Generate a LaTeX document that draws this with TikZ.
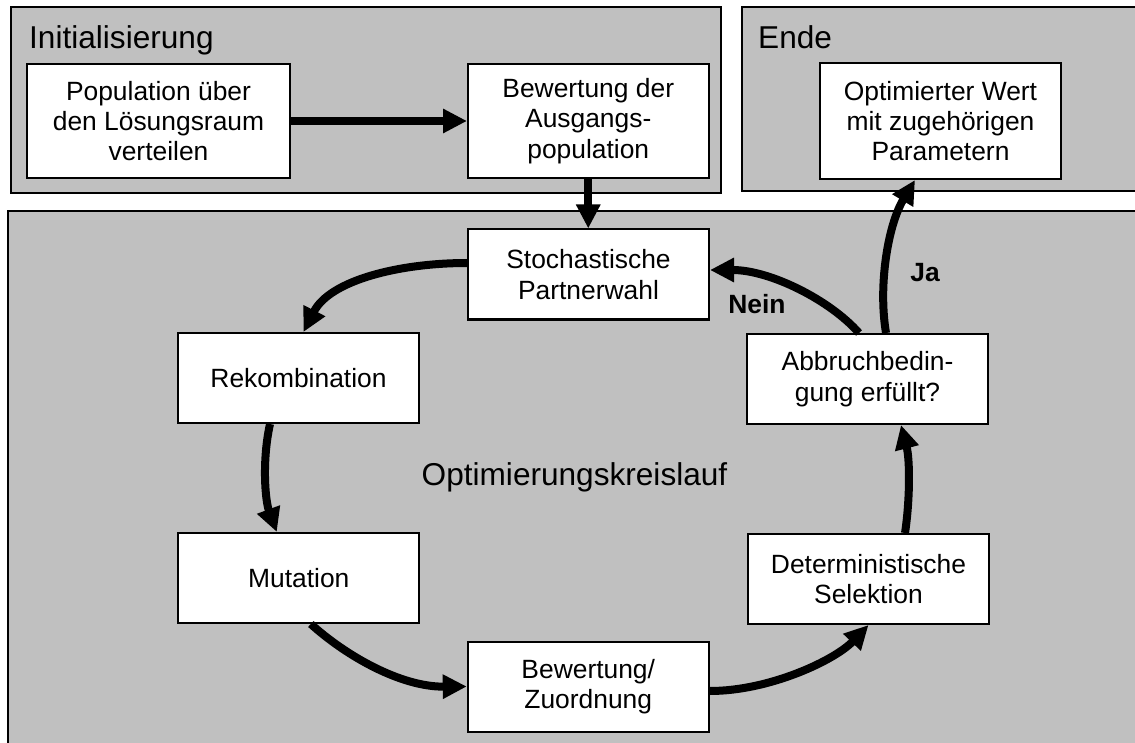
\documentclass[tikz,border=0pt]{standalone}
\usepackage{fontspec}
\setmainfont{Liberation Sans}
\usetikzlibrary{arrows.meta,calc}

\definecolor{panelgray}{RGB}{192,192,192}
\newcommand{\flowboxfont}{\fontsize{26.4}{30.4}\selectfont}
\newcommand{\phasetitlefont}{\fontsize{31.6}{36}\selectfont}

\tikzset{
  panel/.style={fill=panelgray, draw=black, line width=2pt},
  phasetitle/.style={anchor=base west, inner sep=0pt, font=\phasetitlefont},
  looptitle/.style={anchor=base, inner sep=0pt, font=\phasetitlefont},
  stepbox/.style={draw=black, fill=white, line width=2pt, align=center,
    inner sep=0pt, font=\flowboxfont, minimum width=241pt, minimum height=90pt},
  answer/.style={anchor=base, inner sep=0pt, font=\flowboxfont\bfseries},
  flow/.style={line width=8pt, -{Triangle[width=23pt,length=24pt]}}
}

\begin{document}
\begin{tikzpicture}[x=1pt,y=-1pt]
\useasboundingbox (0,0) rectangle (1135,743);
\clip (0,0) rectangle (1135,743);

% phase panels
\draw[panel] (10.5,7.5) rectangle (721,193);
\draw[panel] (742,7.5) rectangle (1145,191.5);
\draw[panel] (8,211) rectangle (1145,755);

\node[phasetitle] (tinit) at (29,49) {Initialisierung};
\node[phasetitle] (tend) at (758,49) {Ende};
\node[looptitle] (tloop) at (574.5,485) {Optimierungskreislauf};

% initialisation
\node[stepbox, minimum width=263pt, minimum height=114pt] (init1) at (158.5,121)
  {Population über\\den Lösungsraum\\verteilen};
\node[stepbox, minimum width=240.5pt, minimum height=114pt] (init2) at (588.25,121)
  {Bewertung der\\Ausgangs-\\population};

% result
\node[stepbox, minimum height=116pt] (result) at (940.5,121)
  {Optimierter Wert\\mit zugehörigen\\Parametern};

% optimisation loop
\node[stepbox] (stoch) at (588.5,274.5) {Stochastische\\Partnerwahl};
\node[stepbox] (rek) at (298.5,378) {Rekombination};
\node[stepbox] (mut) at (298.8,578) {Mutation};
\node[stepbox] (bew) at (588.25,686.5) {Bewertung/\\Zuordnung};
\node[stepbox] (det) at (868.5,579) {Deterministische\\Selektion};
\node[stepbox] (abb) at (867.5,379) {Abbruchbedin-\\gung erfüllt?};

% connectors
\draw[flow] (init1) -- (init2);
\draw[flow] (init2.south) -- (init2.south |- stoch.north);
\draw[flow] ($(stoch.west)+(0,-11.5)$) .. controls (400,263) and (330,280) .. ($(rek.north)+(5,0)$);
\draw[flow] ($(rek.south)+(-28.5,0)$) .. controls (262,460) and (265,500) .. ($(mut.north)+(-22,0)$);
\draw[flow] ($(mut.south)+(12,0)$) .. controls (345,655) and (400,687) .. (bew.west);
\draw[flow] ($(bew.east)+(0,4.5)$) .. controls (770,691) and (835,660) .. (det.south);
\draw[flow] ($(det.north)+(36.5,0)$) .. controls (910,500) and (910,460) .. ($(abb.south)+(33.5,0)$);
\draw[flow] ($(abb.north)+(-8.5,0)$) .. controls (830,300) and (770,270) .. ($(stoch.east)+(0,-4.5)$);
\draw[flow] ($(abb.north)+(18.5,0)$) .. controls (878,285) and (888,225) .. ($(result.south)+(-25.5,0)$);

\node[answer] (nein) at (757,313) {Nein};
\node[answer] (ja) at (925,282) {Ja};
\end{tikzpicture}
\end{document}
